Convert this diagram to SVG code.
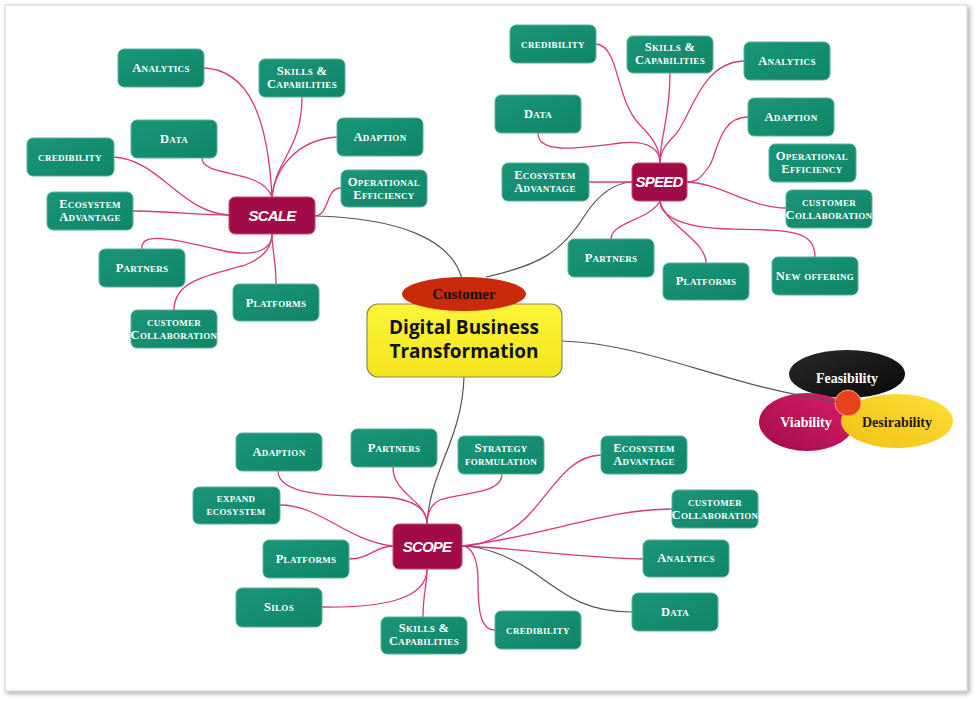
<svg xmlns="http://www.w3.org/2000/svg" width="975" height="701" viewBox="0 0 975 701">
<defs>
<style>
.n rect{fill:url(#gTeal);stroke:#58b39b;stroke-width:1}
.n text{font-family:"Liberation Serif",serif;font-weight:bold;font-size:12.5px;font-variant:small-caps;fill:#fff;text-anchor:middle;letter-spacing:0.3px}
.h rect{fill:#a20c46;stroke:#c24a76;stroke-width:1}
.h text{font-family:"Liberation Sans",sans-serif;font-weight:bold;font-style:italic;font-size:15px;fill:#fff;text-anchor:middle;letter-spacing:-0.8px}
.c path{fill:none;stroke:#d7397f;stroke-width:1.3}
.c path.g{stroke:#555;stroke-width:1.2}
.v text{font-family:"Liberation Serif",serif;font-weight:bold;font-size:14px;text-anchor:middle}
</style>
<linearGradient id="gTeal" x1="0" y1="0" x2="1" y2="1"><stop offset="0" stop-color="#1b9478"/><stop offset="1" stop-color="#0f8667"/></linearGradient>
<linearGradient id="gYel" x1="0" y1="0" x2="0" y2="1"><stop offset="0" stop-color="#fdf53a"/><stop offset="1" stop-color="#f4e41c"/></linearGradient>
<linearGradient id="gBlk" x1="0" y1="0" x2="1" y2="1"><stop offset="0" stop-color="#2a2a2a"/><stop offset="1" stop-color="#080808"/></linearGradient>
<linearGradient id="gVia" x1="0" y1="1" x2="1" y2="0"><stop offset="0" stop-color="#a00c48"/><stop offset="1" stop-color="#da1d6c"/></linearGradient>
<linearGradient id="gDes" x1="0" y1="1" x2="1" y2="0"><stop offset="0" stop-color="#f2c012"/><stop offset="1" stop-color="#fde03a"/></linearGradient>
<filter id="sh" x="-5%" y="-5%" width="110%" height="110%"><feGaussianBlur in="SourceAlpha" stdDeviation="2.5"/><feOffset dx="2" dy="2"/><feComponentTransfer><feFuncA type="linear" slope="0.35"/></feComponentTransfer><feMerge><feMergeNode/><feMergeNode in="SourceGraphic"/></feMerge></filter>
</defs>
<rect x="0" y="0" width="975" height="701" fill="#fff"/>
<rect x="5" y="5" width="962" height="686" fill="#fff" stroke="#cfcfcf" stroke-width="1" filter="url(#sh)"/>

<g id="venn" class="v">
<ellipse cx="847" cy="374" rx="58" ry="24" fill="url(#gBlk)"/>
<ellipse cx="807" cy="422" rx="48" ry="29" fill="url(#gVia)"/>
<ellipse cx="897" cy="421" rx="56" ry="27" fill="url(#gDes)"/>
<circle cx="848" cy="403" r="13" fill="#e8411e" stroke="#f3a07c" stroke-width="1"/>
<text x="847" y="383" fill="#fff">Feasibility</text>
<text x="806" y="427" fill="#fff">Viability</text>
<text x="897" y="427" fill="#1a1a1a">Desirability</text>
</g>

<g id="connectors" class="c">
<path class="g" d="M315,216 C400,218 452,240 462,279"/>
<path class="g" d="M486,277 C540,265 562,252 585,215 C600,192 615,183 632,182"/>
<path class="g" d="M464,377 C462,440 430,470 427,524"/>
<path class="g" d="M562,341 C650,344 720,385 838,402"/>
<path d="M204,68 C250,70 268,120 272,197"/>
<path d="M302,97 C302,150 275,160 272,197"/>
<path d="M337,137 C295,140 275,170 272,197"/>
<path d="M202,158 C202,178 262,168 272,197"/>
<path d="M114,157 C160,160 180,212 229,215"/>
<path d="M133,211 C180,212 200,215 229,215"/>
<path d="M341,188 C325,188 330,215 315,216"/>
<path d="M142,249 C140,232 170,238 220,250 C255,258 272,250 272,234"/>
<path d="M174,310 C174,280 210,275 245,265 C265,258 272,245 272,234"/>
<path d="M276,284 C276,260 272,250 272,234"/>
<path d="M596,44 C620,46 615,100 640,125 C655,140 660,150 660,163"/>
<path d="M670,73 C670,120 660,135 660,163"/>
<path d="M744,61 C700,62 690,120 675,135 C662,148 660,155 660,163"/>
<path d="M538,133 C538,155 580,148 620,143 C650,140 660,150 660,163"/>
<path d="M589,182 L632,182"/>
<path d="M748,117 C720,117 718,150 710,165 C700,180 695,182 687,182"/>
<path d="M687,182 C720,183 750,208 786,208"/>
<path d="M611,239 C611,222 650,220 660,201"/>
<path d="M706,263 C706,240 665,225 660,201"/>
<path d="M815,257 C815,230 790,230 730,229 C680,228 660,215 660,201"/>
<path d="M278,471 C278,495 330,496 380,497 C415,498 427,510 427,524"/>
<path d="M393,467 C393,495 427,500 427,524"/>
<path d="M502,474 C502,495 460,492 440,500 C430,505 427,515 427,524"/>
<path d="M280,505 C320,505 345,540 393,546"/>
<path d="M349,559 C370,559 375,546 393,546"/>
<path d="M322,607 C380,608 427,600 427,569"/>
<path d="M423,617 C423,595 427,585 427,569"/>
<path d="M601,455 C560,456 545,510 510,530 C490,542 475,546 462,546"/>
<path d="M672,509 C600,510 550,535 462,546"/>
<path d="M643,559 C560,557 520,548 462,546"/>
<path class="g" d="M632,612 C580,612 560,590 530,570 C505,554 480,546 462,546"/>
<path d="M495,630 C480,630 478,610 478,580 C478,560 472,546 462,546"/>
</g>

<g id="center">
<rect x="367" y="304" width="195" height="73" rx="11" fill="url(#gYel)" stroke="#8c8a66" stroke-width="1.2"/>
<text x="464" y="334" font-family="'Open Sans',sans-serif" font-weight="bold" font-size="19" text-anchor="middle" fill="#111">Digital Business</text>
<text x="464" y="358" font-family="'Open Sans',sans-serif" font-weight="bold" font-size="19" text-anchor="middle" fill="#111">Transformation</text>
</g>
<g id="customer">
<ellipse cx="464" cy="294" rx="62" ry="17" fill="#c92a0c"/>
<text x="464" y="299" font-family="'Liberation Serif',serif" font-weight="bold" font-size="15" text-anchor="middle" fill="#1a0a00">Customer</text>
</g>

<g id="scale" class="h"><rect x="229" y="197" width="86" height="37" rx="6"/><text x="272" y="221">SCALE</text></g>
<g id="scale-analytics" class="n"><rect x="118" y="49" width="86" height="38" rx="6"/><text x="161" y="72">Analytics</text></g>
<g id="scale-skills" class="n"><rect x="259" y="59" width="86" height="38" rx="6"/><text x="302" y="75">Skills &amp;</text><text x="302" y="88">Capabilities</text></g>
<g id="scale-adaption" class="n"><rect x="337" y="118" width="86" height="38" rx="6"/><text x="380" y="141">Adaption</text></g>
<g id="scale-data" class="n"><rect x="131" y="120" width="86" height="38" rx="6"/><text x="174" y="143">Data</text></g>
<g id="scale-credibility" class="n"><rect x="27" y="138" width="87" height="38" rx="6"/><text x="70" y="161">credibility</text></g>
<g id="scale-opeff" class="n"><rect x="341" y="170" width="86" height="37" rx="6"/><text x="384" y="186">Operational</text><text x="384" y="199">Efficiency</text></g>
<g id="scale-ecosystem" class="n"><rect x="47" y="192" width="86" height="38" rx="6"/><text x="90" y="208">Ecosystem</text><text x="90" y="221">Advantage</text></g>
<g id="scale-partners" class="n"><rect x="99" y="249" width="86" height="38" rx="6"/><text x="142" y="272">Partners</text></g>
<g id="scale-platforms" class="n"><rect x="233" y="284" width="86" height="37" rx="6"/><text x="276" y="307">Platforms</text></g>
<g id="scale-custcollab" class="n"><rect x="131" y="310" width="86" height="38" rx="6"/><text x="174" y="326">customer</text><text x="174" y="339">Collaboration</text></g>

<g id="speed" class="h"><rect x="632" y="163" width="55" height="38" rx="6"/><text x="659" y="187">SPEED</text></g>
<g id="speed-credibility" class="n"><rect x="510" y="25" width="86" height="38" rx="6"/><text x="553" y="48">credibility</text></g>
<g id="speed-skills" class="n"><rect x="627" y="36" width="86" height="37" rx="6"/><text x="670" y="51">Skills &amp;</text><text x="670" y="64">Capabilities</text></g>
<g id="speed-analytics" class="n"><rect x="744" y="42" width="86" height="38" rx="6"/><text x="787" y="65">Analytics</text></g>
<g id="speed-data" class="n"><rect x="495" y="95" width="86" height="38" rx="6"/><text x="538" y="118">Data</text></g>
<g id="speed-adaption" class="n"><rect x="748" y="98" width="86" height="38" rx="6"/><text x="791" y="121">Adaption</text></g>
<g id="speed-opeff" class="n"><rect x="769" y="144" width="87" height="38" rx="6"/><text x="812" y="160">Operational</text><text x="812" y="173">Efficiency</text></g>
<g id="speed-ecosystem" class="n"><rect x="502" y="163" width="87" height="38" rx="6"/><text x="545" y="179">Ecosystem</text><text x="545" y="192">Advantage</text></g>
<g id="speed-custcollab" class="n"><rect x="786" y="190" width="86" height="38" rx="6"/><text x="829" y="206">customer</text><text x="829" y="219">Collaboration</text></g>
<g id="speed-partners" class="n"><rect x="568" y="239" width="86" height="38" rx="6"/><text x="611" y="262">Partners</text></g>
<g id="speed-platforms" class="n"><rect x="663" y="263" width="86" height="37" rx="6"/><text x="706" y="285">Platforms</text></g>
<g id="speed-newoffering" class="n"><rect x="772" y="257" width="86" height="38" rx="6"/><text x="815" y="280">New offering</text></g>

<g id="scope" class="h"><rect x="393" y="524" width="69" height="45" rx="6"/><text x="427" y="552">SCOPE</text></g>
<g id="scope-adaption" class="n"><rect x="236" y="433" width="86" height="38" rx="6"/><text x="279" y="456">Adaption</text></g>
<g id="scope-partners" class="n"><rect x="351" y="429" width="86" height="38" rx="6"/><text x="394" y="452">Partners</text></g>
<g id="scope-strategy" class="n"><rect x="458" y="436" width="86" height="38" rx="6"/><text x="501" y="452">Strategy</text><text x="501" y="465">formulation</text></g>
<g id="scope-expand" class="n"><rect x="193" y="487" width="87" height="37" rx="6"/><text x="236" y="502">expand</text><text x="236" y="515">ecosystem</text></g>
<g id="scope-platforms" class="n"><rect x="263" y="540" width="86" height="38" rx="6"/><text x="306" y="563">Platforms</text></g>
<g id="scope-silos" class="n"><rect x="236" y="588" width="86" height="39" rx="6"/><text x="279" y="611">Silos</text></g>
<g id="scope-skills" class="n"><rect x="381" y="617" width="86" height="37" rx="6"/><text x="424" y="632">Skills &amp;</text><text x="424" y="645">Capabilities</text></g>
<g id="scope-ecosystem" class="n"><rect x="601" y="436" width="86" height="38" rx="6"/><text x="644" y="452">Ecosystem</text><text x="644" y="465">Advantage</text></g>
<g id="scope-custcollab" class="n"><rect x="672" y="490" width="86" height="38" rx="6"/><text x="715" y="506">customer</text><text x="715" y="519">Collaboration</text></g>
<g id="scope-analytics" class="n"><rect x="643" y="540" width="86" height="37" rx="6"/><text x="686" y="562">Analytics</text></g>
<g id="scope-data" class="n"><rect x="632" y="593" width="86" height="38" rx="6"/><text x="675" y="616">Data</text></g>
<g id="scope-credibility" class="n"><rect x="495" y="611" width="86" height="38" rx="6"/><text x="538" y="634">credibility</text></g>
</svg>
